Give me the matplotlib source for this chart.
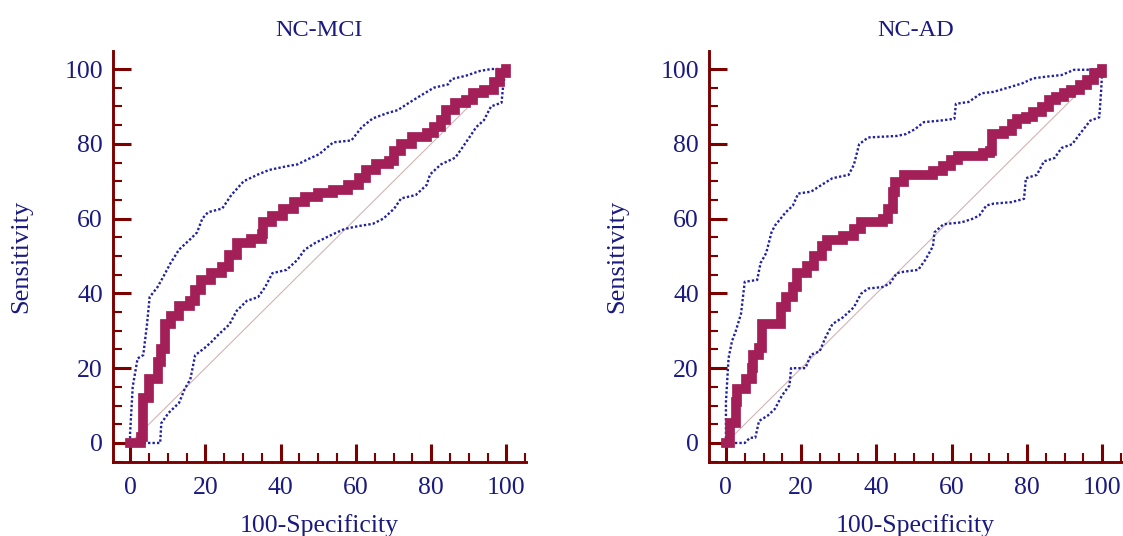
import numpy as np
import matplotlib.pyplot as plt
from matplotlib.ticker import MultipleLocator

# ROC curves (100-Specificity, Sensitivity)
mci_x = [0, 3, 3.5, 5, 7.3, 8.3, 9.4, 11, 13, 16, 17.3, 18.8, 21.6, 24.5, 26.4, 28.3,
         32, 35, 35.4, 37.8, 40.7, 43.5, 46.4, 50, 54, 57.8, 60.7, 62.6, 65.4, 68.8,
         70.2, 72, 75, 78.8, 80.7, 82.6, 84, 86.4, 89.2, 91, 94, 96.8, 98.3, 100]
mci_y = [0, 1.5, 12, 17, 21.7, 25, 31.7, 34, 36.7, 38, 40.8, 43.5, 45.4, 47, 50.4, 53.5,
         54.5, 56, 59, 60.8, 62.7, 64.5, 65.8, 66.8, 67.7, 69, 70.9, 73, 74.5, 75.4,
         78, 80, 81.8, 83, 84.5, 86.3, 89, 91, 91.8, 93.6, 94.5, 96.4, 99, 100]

mci_up_x = [0, 0, 0.7, 2, 3.5, 4.5, 5.2, 7.3, 8.8, 10.7, 13, 16, 17.8, 19.2, 20.7, 24.5,
            26.9, 30.2, 34, 36.9, 41.6, 44.5, 47.3, 50.2, 54, 58.8, 61.6, 64.5, 68.3,
            71.1, 74, 76.9, 80.7, 84.5, 85.4, 89.2, 93, 96, 100]
mci_up_y = [0, 2.5, 15, 22.6, 23.5, 31.7, 39, 41.7, 44.4, 48, 51.7, 54.5, 56.3, 60, 61.7,
            62.7, 66.3, 70, 71.8, 73, 74, 74.5, 75.9, 77.2, 80.4, 80.9, 84.5, 86.8, 88.2,
            89, 90.9, 92.7, 95, 95.9, 97.3, 98.2, 99.5, 100, 100]

mci_lo_x = [0, 3, 8, 8.3, 10.2, 13, 14.5, 16, 17.3, 19.7, 21.6, 23.5, 26.4, 28.3, 31, 34,
            35.9, 37.8, 41.6, 44.5, 46.4, 49.2, 53, 56.9, 60.7, 64.5, 67.3, 70.2, 72,
            75.9, 78.8, 79.7, 82.6, 86.4, 88.3, 90.2, 92, 94, 95.9, 98.7, 99.2, 100]
mci_lo_y = [0, 0, 0, 5.3, 8, 10.7, 14.4, 17, 23.5, 25.3, 27, 29, 31.7, 35.3, 38, 39,
            41.7, 45.4, 46.3, 49, 51.7, 53.5, 55.4, 57.2, 58, 58.6, 60, 62.7, 65.4,
            66.3, 69, 71.8, 74.5, 76.3, 79, 81.8, 84.5, 86.3, 90, 91, 96.4, 100]

ad_x = [0, 1.1, 2.6, 3, 5.4, 6.9, 7.3, 8.8, 9.7, 13, 14.5, 15.9, 17.8, 18.8, 21.6, 23.5,
        25.4, 26.9, 31.1, 34, 35.9, 41.6, 43, 44.5, 44.9, 47.3, 52, 55, 57.8, 59.7,
        61.6, 65.4, 68.3, 70.2, 70.7, 74, 75.9, 77.3, 79.7, 81.6, 84, 85.9, 87.8,
        89.7, 91.6, 94, 95.9, 97.8, 100]
ad_y = [0, 5.4, 10.9, 14.5, 17.2, 20, 23.6, 25.4, 31.8, 31.8, 36.3, 39, 41.7, 45.4, 47.2,
        50, 52.6, 54.4, 55.4, 57.2, 59, 59.9, 62.6, 67.2, 69.9, 71.7, 71.7, 72.6, 74,
        75.8, 76.7, 76.7, 77.6, 78, 82.6, 83.5, 85.3, 86.7, 87.1, 88.5, 89.8, 91.7,
        92.6, 93.5, 94.4, 95.7, 97, 98.9, 100]

ad_up_x = [0, 0, 0.7, 1.6, 2.6, 4, 5, 8.3, 9.2, 10.7, 12.1, 13, 15.9, 17.8, 19.2, 22.6,
           25.4, 28.3, 32.6, 34, 35.4, 37.8, 45.4, 47.8, 50.2, 52.6, 56.9, 60.7, 61.1,
           64.5, 67.8, 71.1, 75.9, 78.8, 81.6, 85.4, 89.2, 92.5, 95.9, 100]
ad_up_y = [0, 10.9, 22.7, 27.2, 29.9, 34.5, 43.1, 43.6, 48.1, 50.8, 56.3, 58.1, 61.7,
           63.5, 66.7, 67.2, 69, 70.8, 71.7, 74.4, 79.9, 81.7, 82.1, 82.6, 83.9, 85.8,
           86.2, 86.7, 90.7, 91.2, 93.5, 93.9, 95.3, 96.2, 97.5, 98, 98.4, 99.8, 99.8, 100]

ad_lo_x = [0, 2.1, 5, 6.4, 7.8, 8.8, 11.1, 13, 14.9, 16.9, 17.3, 21.1, 22.6, 24.9, 26.4,
           28.3, 31.1, 34, 35.9, 37.8, 41.6, 43.5, 45.4, 47.3, 51.1, 53, 55, 55.4, 57.8,
           62.6, 65.4, 67.3, 69.2, 71.1, 75.9, 79.2, 79.7, 82.6, 84.5, 87.3, 89.2, 92,
           94, 96.8, 99.2, 99.7, 100]
ad_lo_y = [0, 0, 0, 1.4, 1.4, 5.9, 7.3, 9.1, 12.7, 15.4, 20, 20, 23.6, 24.5, 28.1, 31.8,
           33.6, 36.3, 39.9, 41.3, 41.7, 42.6, 45.4, 45.8, 46.3, 49, 52.6, 56.3, 58.5,
           59, 59.9, 60.8, 63.5, 64, 64.4, 65.3, 70.8, 71.7, 75.3, 76.2, 78.9, 79.9,
           82.6, 86.2, 87.1, 94.4, 100]

panels = [
    ("NC-MCI", mci_x, mci_y, mci_up_x, mci_up_y, mci_lo_x, mci_lo_y),
    ("NC-AD", ad_x, ad_y, ad_up_x, ad_up_y, ad_lo_x, ad_lo_y),
]

navy = '#1a1a80'
spine_col = '#7d0000'
curve_col = '#a31f57'

plt.rcParams['font.family'] = ['Liberation Serif', 'DejaVu Serif']

fig = plt.figure(figsize=(11.23, 5.36), dpi=100)
lefts = [0.1004, 0.631]

for left, (title, x, y, ux, uy, lx, ly) in zip(lefts, panels):
    ax = fig.add_axes([left, 0.138, 0.368, 0.766])

    ax.plot([0, 100], [0, 100], color='#d3b4b4', lw=0.8, zorder=1)
    ax.plot(ux, uy, color='#2222a0', lw=1.7, ls=(0, (1, 0.9)), zorder=2)
    ax.plot(lx, ly, color='#2222a0', lw=1.7, ls=(0, (1, 0.9)), zorder=2)
    ax.plot(x, y, color=curve_col, lw=7, drawstyle='steps-post',
            solid_joinstyle='miter', solid_capstyle='projecting', zorder=3)

    ax.set_xlim(-4.6, 105.2)
    ax.set_ylim(-5.1, 104.7)

    for side in ['top', 'right']:
        ax.spines[side].set_visible(False)
    for side in ['left', 'bottom']:
        ax.spines[side].set_color(spine_col)
        ax.spines[side].set_linewidth(2.1)

    ax.xaxis.set_major_locator(MultipleLocator(20))
    ax.xaxis.set_minor_locator(MultipleLocator(5))
    ax.yaxis.set_major_locator(MultipleLocator(20))
    ax.yaxis.set_minor_locator(MultipleLocator(5))
    ax.tick_params(which='major', direction='in', length=12.8, width=2.2,
                   color=spine_col, labelcolor=navy, labelsize=18.5, pad=10.5)
    ax.tick_params(which='minor', direction='in', length=6.5, width=1.5,
                   color=spine_col)
    ax.tick_params(axis='y', which='major', pad=7)

    ax.set_title(title, color=navy, fontsize=17.5, pad=11)
    ax.set_xlabel("100-Specificity", color=navy, fontsize=18.5, labelpad=11)
    ax.set_ylabel("Sensitivity", color=navy, fontsize=19, labelpad=23)

fig.savefig("out.png", dpi=100)
